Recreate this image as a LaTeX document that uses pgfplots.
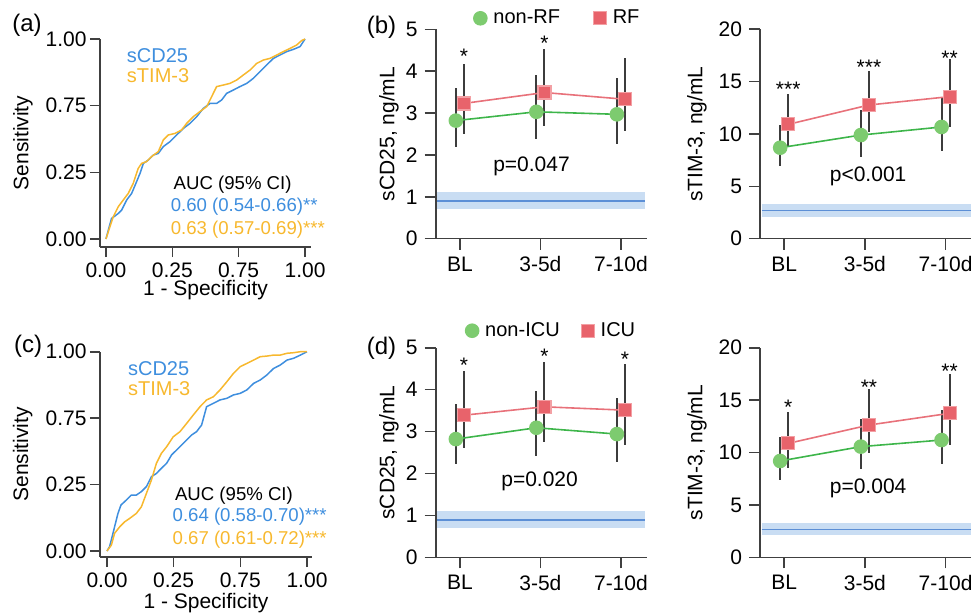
\documentclass[border=0pt]{standalone}
\usepackage{fontspec}
\setmainfont{Liberation Sans}
\usepackage{pgfplots}
\pgfplotsset{compat=1.18}

\definecolor{rocblue}{HTML}{3E8EDE}
\definecolor{rocorange}{HTML}{F7B82E}
\definecolor{greenfill}{HTML}{7DCB6F}
\definecolor{greenline}{HTML}{3DB54A}
\definecolor{redfill}{HTML}{E8636B}
\definecolor{redline}{HTML}{E8717A}
\definecolor{redborder}{HTML}{F3A0A4}
\definecolor{errgray}{HTML}{3C3C3C}
\definecolor{bandfill}{HTML}{C9DDF3}
\definecolor{bandline}{HTML}{5C8FD6}
\definecolor{axisgray}{HTML}{404040}

\tikzset{
  starlbl/.style={font=\fontsize{10.5}{12}\selectfont, yshift=-2.2pt},
  pvallbl/.style={font=\fontsize{10.5}{12}\selectfont},
}

\pgfplotsset{
  base/.style={
    scale only axis, axis lines=left,
    axis line style={-, draw=axisgray, line width=0.8pt},
    tick style={draw=axisgray, line width=0.8pt}, tick align=outside,
    tick label style={font=\fontsize{10.5}{12}\selectfont},
    label style={font=\fontsize{10.5}{12}\selectfont},
    /pgf/number format/assume math mode=true,
    clip=false,
  },
  % the source figure spaces its four ROC ticks evenly
  roc/.style={base, width=105.5pt, xmin=-0.03, xmax=1.03, ymax=1,
    major tick length=5pt,
    xtick={0,0.33333,0.66667,1}, xticklabels={0.00,0.25,0.75,1.00},
    ytick={0,0.33333,0.66667,1}, yticklabels={0.00,0.25,0.75,1.00},
    yticklabel style={inner xsep=1.5pt},
    xticklabel style={inner ysep=2.5pt},
    xlabel={1 - Specificity}, ylabel={Sensitivity},
    ylabel style={at={(axis description cs:-0.365,0.5)}, anchor=center},
  },
  time/.style={base, width=105.5pt, major tick length=5.5pt,
    xtick={0,1,2}, xticklabels={BL,3-5d,7-10d}, ymin=0,
    legend columns=2,
    legend image code/.code={\draw[##1, only marks] plot coordinates {(0pt,0pt)};},
  },
  errs/.style={only marks, mark=none, forget plot,
    error bars/.cd, y dir=both, y explicit, error mark=none,
    error bar style={line width=1pt, errgray}},
  grp0/.style={greenline, line width=0.8pt, mark=*, mark size=3.25pt,
    mark options={fill=greenfill, draw=greenfill}},
  grp1/.style={redline, line width=0.8pt, mark=square*, mark size=3.25pt,
    mark options={fill=redfill, draw=redborder, line width=0.6pt}},
}

\begin{document}
\begin{tikzpicture}
\useasboundingbox (0,0) rectangle (485.5pt,-307.5pt);

% panel labels
\node[font=\fontsize{12}{14}\selectfont] at (13.5pt,-12.5pt) {(a)};
\node[font=\fontsize{12}{14}\selectfont] at (190.75pt,-13.5pt) {(b)};
\node[font=\fontsize{12}{14}\selectfont] at (14pt,-173pt) {(c)};
\node[font=\fontsize{12}{14}\selectfont] at (190.75pt,-174pt) {(d)};

% (a) ROC, RF
\begin{axis}[roc, at={(50pt,-123.5pt)}, anchor=south west, height=104pt, ymin=-0.04,
  xlabel style={at={(axis description cs:0.5,-0.205)}, anchor=center}]
\addplot[rocblue, line width=0.75pt] coordinates {
(0,0) (0.012,0.045) (0.028,0.103) (0.045,0.115) (0.062,0.128) (0.079,0.145)
(0.104,0.195) (0.129,0.228) (0.154,0.287) (0.171,0.328) (0.188,0.378) (0.213,0.395)
(0.238,0.420) (0.263,0.428) (0.288,0.462) (0.322,0.487) (0.355,0.520) (0.389,0.553)
(0.422,0.578) (0.456,0.612) (0.489,0.653) (0.523,0.678) (0.556,0.678) (0.581,0.695)
(0.606,0.728) (0.640,0.745) (0.673,0.762) (0.707,0.778) (0.740,0.803) (0.774,0.837)
(0.807,0.870) (0.841,0.903) (0.874,0.920) (0.908,0.937) (0.941,0.948) (0.975,0.962) (1,1)};
\addplot[rocorange, line width=0.75pt] coordinates {
(0,0) (0.020,0.062) (0.037,0.112) (0.062,0.162) (0.087,0.195) (0.112,0.228)
(0.137,0.278) (0.162,0.353) (0.179,0.378) (0.204,0.387) (0.229,0.412) (0.263,0.437)
(0.288,0.495) (0.313,0.520) (0.347,0.528) (0.380,0.545) (0.405,0.578) (0.439,0.612)
(0.472,0.637) (0.506,0.662) (0.531,0.712) (0.556,0.762) (0.590,0.770) (0.623,0.778)
(0.657,0.795) (0.690,0.820) (0.724,0.845) (0.757,0.878) (0.791,0.895) (0.824,0.903)
(0.858,0.920) (0.891,0.937) (0.925,0.953) (0.958,0.970) (0.983,0.992) (1,1)};
\node[anchor=west, text=rocblue, font=\fontsize{10}{12}\selectfont] at (axis cs:0.07,0.915) {sCD25};
\node[anchor=west, text=rocorange, font=\fontsize{10}{12}\selectfont] at (axis cs:0.07,0.815) {sTIM-3};
\node[anchor=west, font=\fontsize{9.3}{11}\selectfont] at (axis cs:0.305,0.27) {AUC (95\% CI)};
\node[anchor=west, text=rocblue, font=\fontsize{9.3}{11}\selectfont] at (axis cs:0.29,0.16) {0.60 (0.54-0.66)**};
\node[anchor=west, text=rocorange, font=\fontsize{9.3}{11}\selectfont] at (axis cs:0.29,0.045) {0.63 (0.57-0.69)***};
\end{axis}

% (b) sCD25, RF
\begin{axis}[time, at={(217.85pt,-119.35pt)}, anchor=south west, height=104.7pt,
  xmin=-0.3, xmax=2.32, ymax=5, ytick={0,1,2,3,4,5},
  ylabel={sCD25, ng/mL}, ylabel style={at={(axis description cs:-0.221,0.5)}, anchor=center},
  legend style={draw=none, fill=none, inner sep=0pt, font=\fontsize{10}{12}\selectfont,
    at={(rel axis cs:0.179,1.0525)}, anchor=west}]
\addplot[draw=none, fill=bandfill, forget plot] coordinates {(-0.286,0.71) (2.298,0.71) (2.298,1.11) (-0.286,1.11)};
\addplot[bandline, line width=0.6pt, forget plot] coordinates {(-0.286,0.90) (2.298,0.90)};
\addplot[errs] coordinates {
(-0.05,2.82) += (0,0.79) -= (0,0.62)
(0.95,3.03) += (0,0.87) -= (0,0.66)
(1.95,2.97) += (0,0.87) -= (0,0.70)
(0.05,3.23) += (0,0.95) -= (0,0.73)
(1.05,3.49) += (0,1.04) -= (0,0.79)
(2.05,3.33) += (0,0.99) -= (0,0.76)};
\addplot[grp0] coordinates {(-0.05,2.82) (0.95,3.03) (1.95,2.97)};
\addlegendentry{\kern1.3pt non-RF\rule{14.5pt}{0pt}}
\addplot[grp1] coordinates {(0.05,3.23) (1.05,3.49) (2.05,3.33)};
\addlegendentry{\kern1.3pt RF}
\node[starlbl] at (axis cs:0.05,4.45) {*};
\node[starlbl] at (axis cs:1.05,4.77) {*};
\node[pvallbl] at (axis cs:0.89,1.73) {p=0.047};
\end{axis}

% (b) sTIM-3, RF
\begin{axis}[time, at={(380pt,-119.35pt)}, anchor=south west, height=104.7pt,
  xmin=-0.3, xmax=2.315, ymax=20, ytick={0,5,10,15,20},
  ylabel={sTIM-3, ng/mL}, ylabel style={at={(axis description cs:-0.299,0.5)}, anchor=center}]
\addplot[draw=none, fill=bandfill, forget plot] coordinates {(-0.276,2.10) (2.31,2.10) (2.31,3.31) (-0.276,3.31)};
\addplot[bandline, line width=0.6pt, forget plot] coordinates {(-0.276,2.68) (2.31,2.68)};
\addplot[errs] coordinates {
(-0.05,8.69) += (0,2.17) -= (0,1.75)
(0.95,9.90) += (0,2.39) -= (0,2.07)
(1.95,10.67) += (0,2.90) -= (0,2.26)
(0.05,10.92) += (0,2.87) -= (0,2.13)
(1.05,12.77) += (0,3.28) -= (0,2.55)
(2.05,13.57) += (0,3.56) -= (0,2.87)};
\addplot[grp0] coordinates {(-0.05,8.69) (0.95,9.90) (1.95,10.67)};
\addplot[grp1] coordinates {(0.05,10.92) (1.05,12.77) (2.05,13.57)};
\node[starlbl] at (axis cs:0.05,14.68) {***};
\node[starlbl] at (axis cs:1.05,16.75) {***};
\node[starlbl] at (axis cs:2.05,17.7) {**};
\node[pvallbl] at (axis cs:1.04,5.92) {p<0.001};
\end{axis}

% (c) ROC, ICU
\begin{axis}[roc, at={(50pt,-278.5pt)}, anchor=south west, width=106pt, height=102.65pt,
  xmin=-0.035, xmax=1.025, ymin=-0.03,
  xlabel style={at={(axis description cs:0.5,-0.224)}, anchor=center}]
\addplot[rocblue, line width=0.75pt] coordinates {
(0,0) (0.013,0.022) (0.030,0.089) (0.038,0.122) (0.055,0.189) (0.070,0.231)
(0.097,0.256) (0.122,0.281) (0.147,0.281) (0.172,0.298) (0.197,0.323) (0.222,0.373)
(0.247,0.389) (0.272,0.415) (0.298,0.440) (0.323,0.482) (0.348,0.507) (0.373,0.532)
(0.398,0.557) (0.423,0.582) (0.448,0.599) (0.473,0.632) (0.498,0.724) (0.532,0.741)
(0.565,0.758) (0.599,0.766) (0.632,0.783) (0.666,0.791) (0.699,0.808) (0.733,0.841)
(0.766,0.858) (0.799,0.883) (0.833,0.916) (0.866,0.933) (0.900,0.958) (0.933,0.967)
(0.967,0.983) (1,1)};
\addplot[rocorange, line width=0.75pt] coordinates {
(0,0) (0.022,0.030) (0.038,0.089) (0.064,0.122) (0.089,0.147) (0.114,0.164)
(0.147,0.189) (0.172,0.222) (0.197,0.289) (0.222,0.356) (0.247,0.440) (0.272,0.490)
(0.298,0.523) (0.331,0.573) (0.365,0.599) (0.398,0.640) (0.431,0.682) (0.465,0.724)
(0.498,0.758) (0.532,0.774) (0.565,0.808) (0.599,0.849) (0.632,0.891) (0.666,0.925)
(0.699,0.941) (0.733,0.958) (0.766,0.975) (0.799,0.978) (0.833,0.983) (0.866,0.983)
(0.900,0.992) (0.933,0.995) (0.967,1.0) (1,1)};
\node[anchor=west, text=rocblue, font=\fontsize{10}{12}\selectfont] at (axis cs:0.07,0.917) {sCD25};
\node[anchor=west, text=rocorange, font=\fontsize{10}{12}\selectfont] at (axis cs:0.07,0.816) {sTIM-3};
\node[anchor=west, font=\fontsize{9.3}{11}\selectfont] at (axis cs:0.305,0.28) {AUC (95\% CI)};
\node[anchor=west, text=rocblue, font=\fontsize{9.3}{11}\selectfont] at (axis cs:0.293,0.17) {0.64 (0.58-0.70)***};
\node[anchor=west, text=rocorange, font=\fontsize{9.3}{11}\selectfont] at (axis cs:0.293,0.055) {0.67 (0.61-0.72)***};
\end{axis}

% (d) sCD25, ICU
\begin{axis}[time, at={(217.85pt,-278.65pt)}, anchor=south west, height=104.8pt,
  xmin=-0.3, xmax=2.32, ymax=5, ytick={0,1,2,3,4,5},
  ylabel={sCD25, ng/mL}, ylabel style={at={(axis description cs:-0.221,0.5)}, anchor=center},
  legend style={draw=none, fill=none, inner sep=0pt, font=\fontsize{10}{12}\selectfont,
    at={(rel axis cs:0.14,1.081)}, anchor=west}]
\addplot[draw=none, fill=bandfill, forget plot] coordinates {(-0.286,0.69) (2.298,0.69) (2.298,1.10) (-0.286,1.10)};
\addplot[bandline, line width=0.6pt, forget plot] coordinates {(-0.286,0.89) (2.298,0.89)};
\addplot[errs] coordinates {
(-0.05,2.82) += (0,0.83) -= (0,0.60)
(0.95,3.09) += (0,0.88) -= (0,0.67)
(1.95,2.94) += (0,0.85) -= (0,0.66)
(0.05,3.39) += (0,1.05) -= (0,0.79)
(1.05,3.59) += (0,1.08) -= (0,0.83)
(2.05,3.51) += (0,1.09) -= (0,0.83)};
\addplot[grp0] coordinates {(-0.05,2.82) (0.95,3.09) (1.95,2.94)};
\addlegendentry{\kern1.3pt non-ICU\rule{8.7pt}{0pt}}
\addplot[grp1] coordinates {(0.05,3.39) (1.05,3.59) (2.05,3.51)};
\addlegendentry{\kern1.3pt ICU}
\node[starlbl] at (axis cs:0.05,4.68) {*};
\node[starlbl] at (axis cs:1.05,4.89) {*};
\node[starlbl] at (axis cs:2.05,4.84) {*};
\node[pvallbl] at (axis cs:0.99,1.80) {p=0.020};
\end{axis}

% (d) sTIM-3, ICU
\begin{axis}[time, at={(380pt,-278.65pt)}, anchor=south west, height=104.8pt,
  xmin=-0.3, xmax=2.315, ymax=20, ytick={0,5,10,15,20},
  ylabel={sTIM-3, ng/mL}, ylabel style={at={(axis description cs:-0.299,0.5)}, anchor=center}]
\addplot[draw=none, fill=bandfill, forget plot] coordinates {(-0.276,2.13) (2.31,2.13) (2.31,3.24) (-0.276,3.24)};
\addplot[bandline, line width=0.6pt, forget plot] coordinates {(-0.276,2.67) (2.31,2.67)};
\addplot[errs] coordinates {
(-0.05,9.19) += (0,2.32) -= (0,1.81)
(0.95,10.56) += (0,2.60) -= (0,2.17)
(1.95,11.19) += (0,2.86) -= (0,2.29)
(0.05,10.87) += (0,3.02) -= (0,2.38)
(1.05,12.62) += (0,3.41) -= (0,2.70)
(2.05,13.74) += (0,3.75) -= (0,3.02)};
\addplot[grp0] coordinates {(-0.05,9.19) (0.95,10.56) (1.95,11.19)};
\addplot[grp1] coordinates {(0.05,10.87) (1.05,12.62) (2.05,13.74)};
\node[starlbl] at (axis cs:0.05,14.69) {*};
\node[starlbl] at (axis cs:1.05,16.6) {**};
\node[starlbl] at (axis cs:2.05,18.19) {**};
\node[pvallbl] at (axis cs:1.04,6.58) {p=0.004};
\end{axis}
\end{tikzpicture}
\end{document}
